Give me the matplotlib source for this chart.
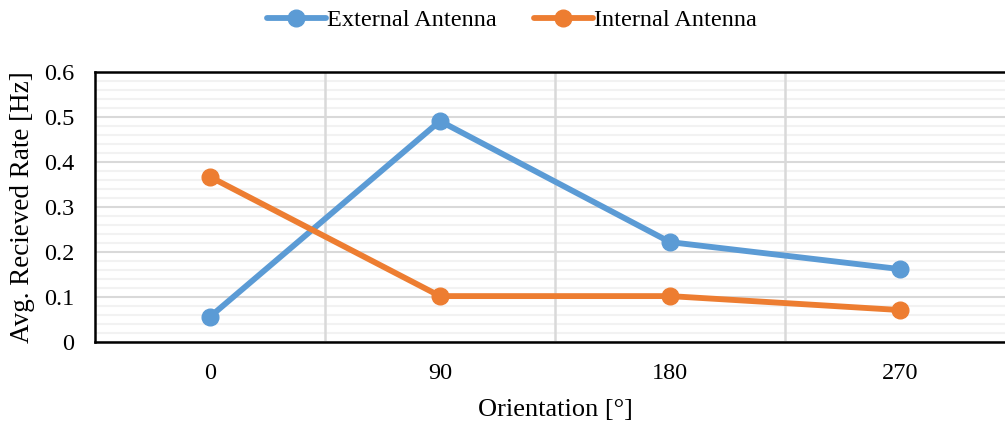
import numpy as np
import matplotlib.pyplot as plt

plt.rcParams['font.family'] = ['Liberation Serif', 'DejaVu Serif']

orientations = ['0', '90', '180', '270']
external = [0.056, 0.491, 0.222, 0.162]
internal = [0.367, 0.102, 0.102, 0.071]

blue = '#5B9BD5'
orange = '#ED7D31'

fig = plt.figure(figsize=(10.05, 4.22), dpi=100)
# plot area runs past the right edge, like the original
ax = fig.add_axes([95 / 1005, 1 - 342 / 422, 920 / 1005, 270 / 422])

x = np.arange(len(orientations))
ax.plot(x, external, color=blue, lw=4.2, marker='o', ms=12,
        label='External Antenna', solid_capstyle='round', zorder=3)
ax.plot(x, internal, color=orange, lw=4.2, marker='o', ms=12,
        label='Internal Antenna', solid_capstyle='round', zorder=3)

ax.set_xlim(-0.5, len(orientations) - 0.5)
ax.set_ylim(0, 0.6)
ax.set_xticks(x)
ax.set_xticklabels(orientations)
ax.set_yticks(np.arange(0, 0.61, 0.1))
ax.set_yticklabels(['0', '0.1', '0.2', '0.3', '0.4', '0.5', '0.6'])
ax.set_yticks(np.arange(0, 0.6, 0.02), minor=True)

ax.grid(which='minor', axis='y', color='#f2f2f2', lw=1.5, zorder=0)
ax.grid(which='major', axis='y', color='#d9d9d9', lw=1.5, zorder=0)
ax.vlines(x[:-1] + 0.5, 0, 0.6, color='#d9d9d9', lw=1.8, zorder=1)
ax.set_axisbelow(True)

ax.tick_params(which='both', length=0, labelsize=17.5, colors='black')
ax.tick_params(axis='x', pad=15)
ax.tick_params(axis='y', pad=15)
for side in ['left', 'top', 'bottom']:
    ax.spines[side].set_linewidth(1.8)
    ax.spines[side].set_color('black')
    ax.spines[side].set_zorder(4)
ax.spines['right'].set_visible(False)

ax.set_xlabel('Orientation [°]', fontsize=19, labelpad=11)
ax.set_ylabel('Avg. Recieved Rate [Hz]', fontsize=19.5, labelpad=6)

fig.legend(loc='center', bbox_to_anchor=(512 / 1005, 1 - 20 / 422), ncol=2,
           frameon=False, fontsize=17.5, handlelength=2.45, handletextpad=0.05,
           columnspacing=1.5)

fig.savefig('out.png', dpi=100)
